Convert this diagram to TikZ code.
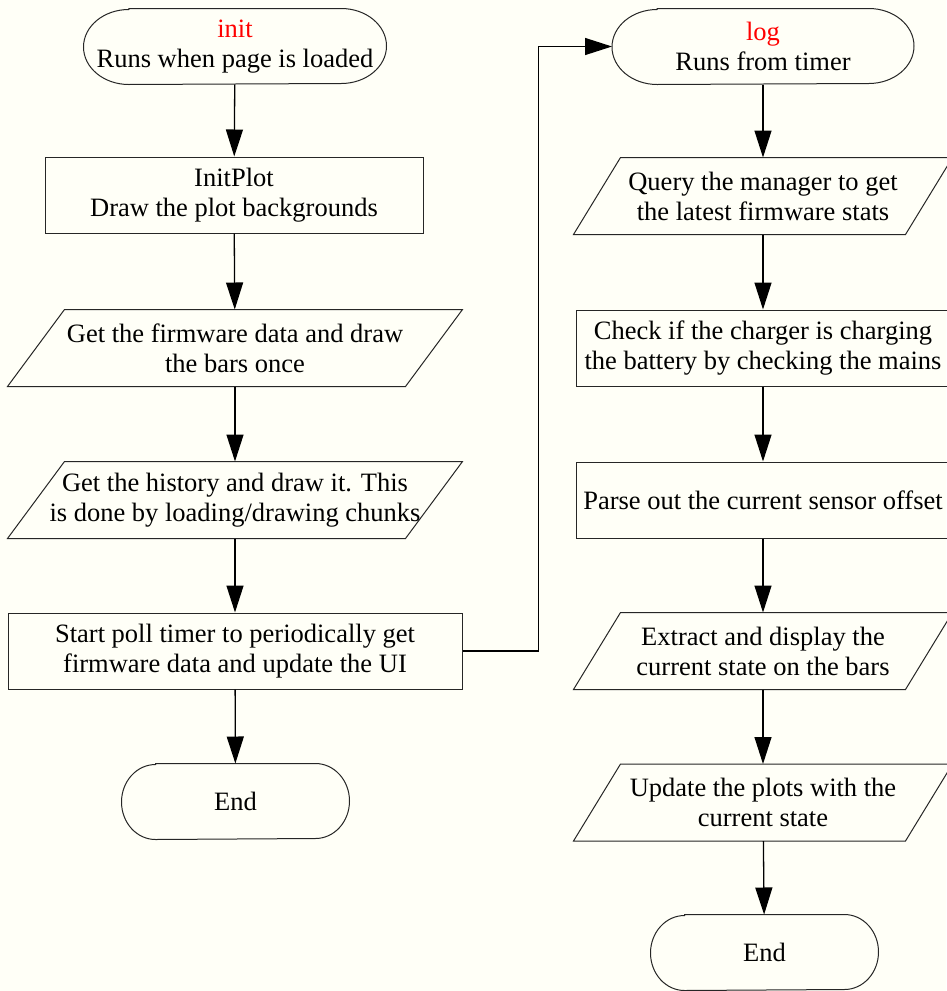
\documentclass[tikz,border=0pt]{standalone}
\usepackage{fontspec}
\setmainfont{Liberation Serif}
\usetikzlibrary{arrows.meta}

\definecolor{paper}{RGB}{255,255,247}
\newcommand\flowfont{\fontsize{26.5}{30}\selectfont}

\tikzset{every picture/.style={line width=1pt}}
\tikzset{
    box/.style={draw=black!85, rectangle, inner sep=0pt, minimum height=76pt, align=center, font=\flowfont},
    term/.style={inner sep=0pt, minimum width=#1pt, minimum height=75pt, align=center, font=\flowfont,
        append after command={\pgfextra{\draw[black!85] ([xshift=0.15*#1pt]\tikzlastnode.north west) -- ([xshift=-0.15*#1pt]\tikzlastnode.north east) arc[start angle=90,end angle=-90,x radius=0.15*#1pt,y radius=37.5pt] -- ([xshift=0.15*#1pt]\tikzlastnode.south west) arc[start angle=270,end angle=90,x radius=0.15*#1pt,y radius=37.5pt] -- cycle;}}},
    io/.style 2 args={inner sep=0pt, minimum width=#1pt, minimum height=76pt, align=center, font=\flowfont,
        append after command={\pgfextra{\draw[black!85] (\tikzlastnode.south west) -- ([xshift=-#2pt]\tikzlastnode.south east) -- (\tikzlastnode.north east) -- ([xshift=#2pt]\tikzlastnode.north west) -- cycle;}}},
    flow/.style={-{Triangle[length=27pt,width=17pt]}, line width=1.3pt}
}

\begin{document}
\begin{tikzpicture}[x=1pt,y=-1pt]
    \fill[paper] (0,0) rectangle (946,991);
    \useasboundingbox (0,0) rectangle (946,991);

    % init column
    \node (init) at (235,46.5) [term=302] {\textcolor{red}{init}\\Runs when page is loaded};
    \node (initplot) at (234,195) [box, minimum width=378pt] {InitPlot\\Draw the plot backgrounds};
    \node (getfw) at (235,348) [io={454}{57}] {Get the firmware data and draw\\the bars once};
    \node (gethist) at (235,500) [io={454}{57}] {Get the history and draw it. This\\is done by loading/drawing chunks};
    \node (startpoll) at (235,651) [box, minimum width=454pt] {Start poll timer to periodically get\\firmware data and update the UI};
    \node (endinit) at (235.5,801.5) [term=227] {End};

    % log column
    \node (log) at (763,46.5) [term=301] {\textcolor{red}{log}\\Runs from timer};
    \node (query) at (763,196) [io={378}{47}] {Query the manager to get\\the latest firmware stats};
    \node (check) at (763,348) [box, minimum width=374pt] {Check if the charger is charging\\the battery by checking the mains};
    \node (parse) at (763,500) [box, minimum width=374pt] {Parse out the current sensor offset};
    \node (extract) at (763,651) [io={378}{47}] {Extract and display the\\current state on the bars};
    \node (update) at (763,802.5) [io={378}{47}] {Update the plots with the\\current state};
    \node (endlog) at (764.5,952.5) [term=227] {End};

    \draw[flow] (init) -- (initplot);
    \draw[flow] (initplot) -- (getfw);
    \draw[flow] (getfw) -- (gethist);
    \draw[flow] (gethist) -- (startpoll);
    \draw[flow] (startpoll) -- (endinit);
    \draw[flow] (startpoll.east) -- ++(76,0) |- (log.west);

    \draw[flow] (log) -- (query);
    \draw[flow] (query) -- (check);
    \draw[flow] (check) -- (parse);
    \draw[flow] (parse) -- (extract);
    \draw[flow] (extract) -- (update);
    \draw[flow] (update) -- (endlog);
\end{tikzpicture}
\end{document}
